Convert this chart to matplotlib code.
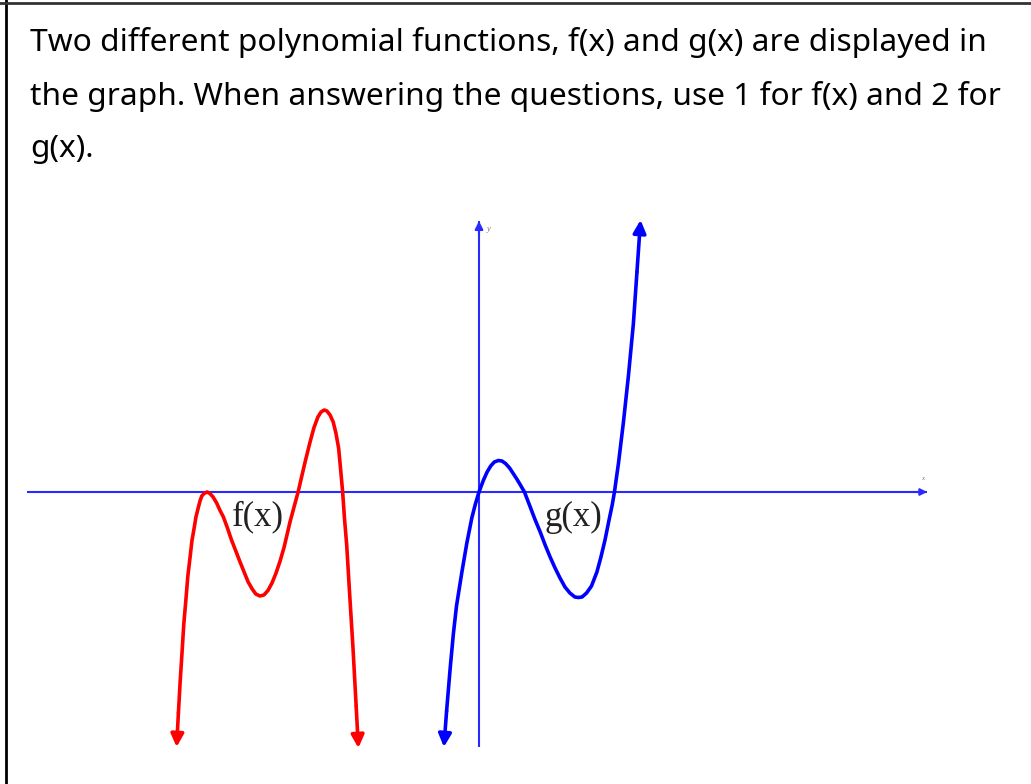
import matplotlib
matplotlib.use("Agg")
import matplotlib.pyplot as plt
from matplotlib.lines import Line2D

# Curve points (x, y in graph units)
f_x = [-6.68, -6.64, -6.60, -6.56, -6.51, -6.47, -6.42, -6.38, -6.33, -6.29,
       -6.24, -6.20, -6.16, -6.11, -6.04, -5.98, -5.91, -5.83, -5.76, -5.68,
       -5.59, -5.50, -5.40, -5.31, -5.22, -5.13, -5.04, -4.96, -4.87, -4.78,
       -4.69, -4.60, -4.51, -4.42, -4.33, -4.20, -4.02, -3.87, -3.76, -3.67,
       -3.58, -3.51, -3.44, -3.38, -3.31, -3.24, -3.18, -3.12, -3.08, -3.03,
       -2.99, -2.94, -2.88, -2.80, -2.73]
f_y = [-4.42, -3.78, -3.22, -2.64, -2.12, -1.68, -1.30, -0.98, -0.72, -0.50,
       -0.32, -0.18, -0.08, -0.03, 0.00, -0.03, -0.10, -0.22, -0.36, -0.50,
       -0.72, -0.96, -1.19, -1.40, -1.60, -1.80, -1.94, -2.04, -2.08, -2.06,
       -1.97, -1.82, -1.62, -1.38, -1.10, -0.60, 0.00, 0.58, 0.98, 1.28,
       1.50, 1.60, 1.64, 1.62, 1.54, 1.40, 1.18, 0.88, 0.50, 0.00,
       -0.52, -1.06, -1.96, -3.12, -4.28]
f_tips = [(-6.72, -5.10), (-2.68, -5.12)]

g_x = [-0.72, -0.64, -0.57, -0.50, -0.38, -0.27, -0.16, -0.08, 0.00, 0.10,
       0.18, 0.26, 0.34, 0.43, 0.51, 0.59, 0.68, 0.76, 0.84, 0.92,
       1.01, 1.13, 1.24, 1.36, 1.47, 1.58, 1.69, 1.80, 1.91, 2.02,
       2.13, 2.21, 2.29, 2.39, 2.50, 2.62, 2.71, 2.80, 2.89, 2.96,
       3.01, 3.10, 3.21, 3.32, 3.43, 3.51]
g_y = [-4.38, -3.52, -2.84, -2.28, -1.60, -1.02, -0.52, -0.24, 0.00, 0.24,
       0.40, 0.52, 0.60, 0.63, 0.62, 0.57, 0.48, 0.37, 0.26, 0.14,
       0.00, -0.28, -0.54, -0.80, -1.06, -1.30, -1.52, -1.72, -1.90, -2.02,
       -2.10, -2.11, -2.10, -2.02, -1.88, -1.60, -1.30, -0.96, -0.56, -0.26,
       0.00, 0.58, 1.40, 2.32, 3.36, 4.40]
g_tips = [(-0.78, -5.10), (3.59, 5.44)]

x_axis = [-10.04, 9.96]
y_axis = [-5.10, 5.42]

question = ("Two different polynomial functions, f(x) and g(x) are displayed in\n"
            "the graph. When answering the questions, use 1 for f(x) and 2 for\n"
            "g(x).")

RED = "#ff0000"
BLUE = "#0000ff"
AXIS = "#2a2aff"

fig = plt.figure(figsize=(10.31, 7.84), dpi=100)
fig.patch.set_facecolor("white")

# graph units: 45 px per x unit, 50 px per y unit, origin at (479, 492) px
ax = fig.add_axes([0, 0, 1, 1])
ax.set_xlim(-479 / 45, (1031 - 479) / 45)
ax.set_ylim((492 - 784) / 50, 492 / 50)
ax.axis("off")

# axes
ax.plot(x_axis, [0, 0], color=AXIS, lw=1.5, solid_capstyle="butt")
ax.plot([0, 0], y_axis, color=AXIS, lw=1.5, solid_capstyle="butt")
ax.annotate("", xy=(0, y_axis[1]), xytext=(0, y_axis[1] - 0.3),
            arrowprops=dict(arrowstyle="-|>", color=AXIS, lw=1.5,
                            mutation_scale=12, shrinkA=0, shrinkB=0))
ax.annotate("", xy=(x_axis[1], 0), xytext=(x_axis[1] - 0.3, 0),
            arrowprops=dict(arrowstyle="-|>", color=AXIS, lw=1.5,
                            mutation_scale=10, shrinkA=0, shrinkB=0))
ax.text(0.22, 5.26, "y", fontsize=6, family="Liberation Serif",
        style="italic", color="#777777", ha="center", va="center")
ax.text(9.87, 0.26, "x", fontsize=5, family="Liberation Serif",
        style="italic", color="#777777", ha="center", va="center")


def draw_curve(xs, ys, tips, color):
    ax.plot(xs, ys, color=color, lw=2.6, solid_joinstyle="round",
            solid_capstyle="round")
    ends = [(xs[0], ys[0]), (xs[-1], ys[-1])]
    for tip, end in zip(tips, ends):
        ax.annotate("", xy=tip, xytext=end,
                    arrowprops=dict(arrowstyle="-|>", color=color, lw=2.6,
                                    mutation_scale=19, shrinkA=0, shrinkB=0))


draw_curve(f_x, f_y, f_tips, RED)
draw_curve(g_x, g_y, g_tips, BLUE)

ax.text(-4.91, -0.50, "f(x)", fontsize=25, family="Liberation Serif",
        color="#222222", ha="center", va="center")
ax.text(2.10, -0.50, "g(x)", fontsize=25, family="Liberation Serif",
        color="#222222", ha="center", va="center")

# question text and box edges
fig.text(30 / 1031, 1 - 27 / 784, question, fontsize=22.8, family="Noto Sans",
         color="black", ha="left", va="top", linespacing=1.95)
fig.add_artist(Line2D([6 / 1031, 6 / 1031], [0, 1], color="black", lw=2,
                      transform=fig.transFigure))
fig.add_artist(Line2D([0, 1], [1 - 3 / 784, 1 - 3 / 784], color="#333333",
                      lw=2, transform=fig.transFigure))

fig.savefig("out.png", dpi=100, facecolor="white")
